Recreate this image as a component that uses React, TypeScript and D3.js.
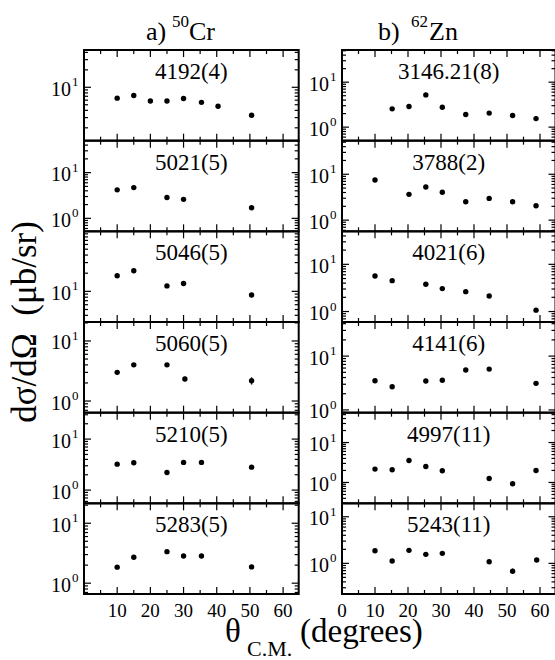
import React from "react";
import * as d3 from "d3";

// ---- panel labels (level energies, keV) ----
const crLabels = ["4192(4)", "5021(5)", "5046(5)", "5060(5)", "5210(5)", "5283(5)"];
const znLabels = ["3146.21(8)", "3788(2)", "4021(6)", "4141(6)", "4997(11)", "5243(11)"];

// ---- 50Cr data (theta c.m. in degrees, dσ/dΩ in μb/sr) ----
const cr4192Angle = [10, 15, 20, 25, 30, 35.4, 40.4, 50.5];
const cr4192Value = [6.5, 7.2, 5.8, 5.8, 6.4, 5.5, 4.7, 3.3];
const cr4192Error = [0.25, 0.3, 0.25, 0.25, 0.25, 0.25, 0.25, 0.2];

const cr5021Angle = [10, 15, 25, 30, 50.5];
const cr5021Value = [4.2, 4.7, 2.85, 2.6, 1.7];
const cr5021Error = [0.2, 0.2, 0.15, 0.15, 0.1];

const cr5046Angle = [10, 15, 25, 30, 50.5];
const cr5046Value = [18.1, 22.0, 12.3, 13.5, 8.7];
const cr5046Error = [1.2, 1.4, 0.9, 1.0, 0.7];

const cr5060Angle = [10, 15, 25, 30.4, 50.5];
const cr5060Value = [3.0, 4.0, 4.0, 2.33, 2.18];
const cr5060Error = [0.2, 0.2, 0.25, 0.2, 0.3];

const cr5210Angle = [10, 15, 25, 30, 35.4, 50.5];
const cr5210Value = [3.23, 3.43, 2.22, 3.49, 3.49, 2.82];
const cr5210Error = [0.15, 0.15, 0.12, 0.15, 0.15, 0.15];

const cr5283Angle = [10, 15, 25, 30, 35.4, 50.5];
const cr5283Value = [1.85, 2.71, 3.36, 2.85, 2.85, 1.87];
const cr5283Error = [0.1, 0.12, 0.15, 0.12, 0.12, 0.1];

// ---- 62Zn data ----
const zn3146Angle = [15.2, 20.3, 25.4, 30.4, 37.5, 44.6, 51.7, 58.8];
const zn3146Value = [2.55, 2.87, 5.22, 2.78, 1.91, 2.05, 1.81, 1.55];
const zn3146Error = [0.1, 0.1, 0.2, 0.1, 0.08, 0.08, 0.08, 0.08];

const zn3788Angle = [10, 20.3, 25.4, 30.4, 37.5, 44.6, 51.7, 58.8];
const zn3788Value = [7.5, 3.65, 5.27, 4.04, 2.51, 2.98, 2.51, 2.06];
const zn3788Error = [0.3, 0.15, 0.2, 0.15, 0.1, 0.1, 0.1, 0.1];

const zn4021Angle = [10, 15.2, 25.4, 30.4, 37.5, 44.6, 58.8];
const zn4021Value = [5.66, 4.51, 3.79, 3.06, 2.64, 2.14, 1.07];
const zn4021Error = [0.2, 0.18, 0.15, 0.12, 0.1, 0.1, 0.06];

const zn4141Angle = [10, 15.2, 25.4, 30.4, 37.5, 44.6, 58.8];
const zn4141Value = [3.49, 2.7, 3.44, 3.55, 5.51, 5.74, 3.12];
const zn4141Error = [0.15, 0.12, 0.15, 0.15, 0.2, 0.2, 0.15];

const zn4997Angle = [10, 15.2, 20.3, 25.4, 30.4, 44.6, 51.7, 58.8];
const zn4997Value = [2.16, 2.08, 3.55, 2.51, 1.96, 1.26, 0.93, 2.0];
const zn4997Error = [0.1, 0.1, 0.15, 0.12, 0.1, 0.08, 0.07, 0.1];

const zn5243Angle = [10, 15.2, 20.3, 25.4, 30.4, 44.6, 51.7, 59];
const zn5243Value = [1.86, 1.12, 1.9, 1.56, 1.64, 1.08, 0.68, 1.18];
const zn5243Error = [0.1, 0.08, 0.1, 0.1, 0.1, 0.08, 0.09, 0.08];

// ---- axis settings ----
const crYDomains = [[1.2, 44], [0.52, 50], [3.1, 99], [0.64, 20.7], [0.55, 33], [0.66, 21.5]];
const znYDomains = [[0.5, 52], [0.57, 54], [0.6, 50], [0.89, 43], [0.3, 56], [0.22, 19.4]];
const xDomain = [0, 64.7];
const crXTickLabels = [10, 20, 30, 40, 50, 60];
const znXTickLabels = [0, 10, 20, 30, 40, 50, 60];
const xTickValues = d3.range(5, 65, 5);

const crPanels = [
  { a: cr4192Angle, v: cr4192Value, e: cr4192Error },
  { a: cr5021Angle, v: cr5021Value, e: cr5021Error },
  { a: cr5046Angle, v: cr5046Value, e: cr5046Error },
  { a: cr5060Angle, v: cr5060Value, e: cr5060Error },
  { a: cr5210Angle, v: cr5210Value, e: cr5210Error },
  { a: cr5283Angle, v: cr5283Value, e: cr5283Error },
];
const znPanels = [
  { a: zn3146Angle, v: zn3146Value, e: zn3146Error },
  { a: zn3788Angle, v: zn3788Value, e: zn3788Error },
  { a: zn4021Angle, v: zn4021Value, e: zn4021Error },
  { a: zn4141Angle, v: zn4141Value, e: zn4141Error },
  { a: zn4997Angle, v: zn4997Value, e: zn4997Error },
  { a: zn5243Angle, v: zn5243Value, e: zn5243Error },
];

const W = 555;
const H = 660;
const TOP = 50;
const BOTTOM = 594;
const PH = (BOTTOM - TOP) / 6;
const FONT = "Liberation Serif, DejaVu Serif, serif";

function logTicks(dom: number[]) {
  const out: { v: number; major: boolean }[] = [];
  const e0 = Math.floor(Math.log10(dom[0])) - 1;
  const e1 = Math.ceil(Math.log10(dom[1])) + 1;
  for (let e = e0; e <= e1; e++) {
    for (let m = 1; m <= 9; m++) {
      const v = m * Math.pow(10, e);
      if (v >= dom[0] && v <= dom[1]) out.push({ v, major: m === 1 });
    }
  }
  return out;
}

const txt = { fontFamily: FONT, fill: "#000" } as React.CSSProperties;

function Panel(props: {
  left: number; right: number; top: number; dom: number[];
  label: string; data: { a: number[]; v: number[]; e: number[] };
  xLabels: number[] | null;
}) {
  const { left, right, top, dom, label, data, xLabels } = props;
  const bottom = top + PH;
  const x = d3.scaleLinear().domain(xDomain).range([left, right]);
  const y = d3.scaleLog().domain(dom).range([bottom, top]);
  const yt = logTicks(dom);
  const MAJ = 7, MIN = 4;
  return (
    <g>
      {xTickValues.map((t) => {
        const len = t % 10 === 0 ? MAJ : MIN;
        return (
          <g key={"xt" + t}>
            <line x1={x(t)} x2={x(t)} y1={top} y2={top + len} stroke="#000" strokeWidth={1.2} />
            <line x1={x(t)} x2={x(t)} y1={bottom} y2={bottom - len} stroke="#000" strokeWidth={1.2} />
          </g>
        );
      })}
      {yt.map((t, i) => {
        const len = t.major ? MAJ : MIN;
        const yy = y(t.v);
        return (
          <g key={"yt" + i}>
            <line x1={left} x2={left + len} y1={yy} y2={yy} stroke="#000" strokeWidth={1.2} />
            <line x1={right} x2={right - len} y1={yy} y2={yy} stroke="#000" strokeWidth={1.2} />
          </g>
        );
      })}
      {yt.filter((t) => t.major).map((t, i) => {
        const yy = y(t.v);
        const ex = Math.round(Math.log10(t.v));
        return (
          <g key={"yl" + i}>
            <text x={left - 13} y={yy + 8.5} fontSize={20} textAnchor="end" style={txt}>10</text>
            <text x={left - 12} y={yy - 1} fontSize={13} textAnchor="start" style={txt}>{ex}</text>
          </g>
        );
      })}
      {data.a.map((a, i) => (
        <line key={"e" + i} x1={x(a)} x2={x(a)} y1={y(data.v[i] - data.e[i])} y2={y(data.v[i] + data.e[i])}
          stroke="#000" strokeWidth={1.3} />
      ))}
      {data.a.map((a, i) => (
        <circle key={"p" + i} cx={x(a)} cy={y(data.v[i])} r={2.7} fill="#000" />
      ))}
      <text x={(left + right) / 2} y={top + 29} fontSize={23} textAnchor="middle" style={txt}>{label}</text>
      <rect x={left} y={top} width={right - left} height={PH} fill="none" stroke="#000" strokeWidth={2} />
      {xLabels && xLabels.map((t) => (
        <text key={"xl" + t} x={x(t)} y={617} fontSize={19} textAnchor="middle" style={txt}>{t}</text>
      ))}
    </g>
  );
}

export default function App() {
  const cols = [
    { left: 84, right: 298.7, labels: crLabels, doms: crYDomains, panels: crPanels, xl: crXTickLabels },
    { left: 342, right: 555.5, labels: znLabels, doms: znYDomains, panels: znPanels, xl: znXTickLabels },
  ];
  return (
    <svg width={W} height={H} style={{ position: "absolute", left: 0, top: 0, background: "#fff" }}>
      <rect x={0} y={0} width={W} height={H} fill="#fff" />
      {cols.map((c, ci) =>
        c.panels.map((p, pi) => (
          <Panel key={ci + "-" + pi} left={c.left} right={c.right} top={TOP + pi * PH}
            dom={c.doms[pi]} label={c.labels[pi]} data={p} xLabels={pi === 5 ? c.xl : null} />
        ))
      )}
      <text x={146} y={40} fontSize={26} style={txt}>a)</text>
      <text x={172} y={27} fontSize={17} style={txt}>50</text>
      <text x={189} y={40} fontSize={26} style={txt}>Cr</text>
      <text x={378} y={40} fontSize={26} style={txt}>b)</text>
      <text x={411} y={27} fontSize={17} style={txt}>62</text>
      <text x={429} y={40} fontSize={26} style={txt}>Zn</text>
      <text transform="translate(36,322) rotate(-90)" fontSize={35} textAnchor="middle"
        style={{ ...txt, whiteSpace: "pre" }}>{"dσ/dΩ  (μb/sr)"}</text>
      <text x={225} y={642} fontSize={33} style={txt}>θ</text>
      <text x={247} y={656} fontSize={22} style={txt}>C.M.</text>
      <text x={300} y={642} fontSize={33} style={txt}>(degrees)</text>
    </svg>
  );
}
